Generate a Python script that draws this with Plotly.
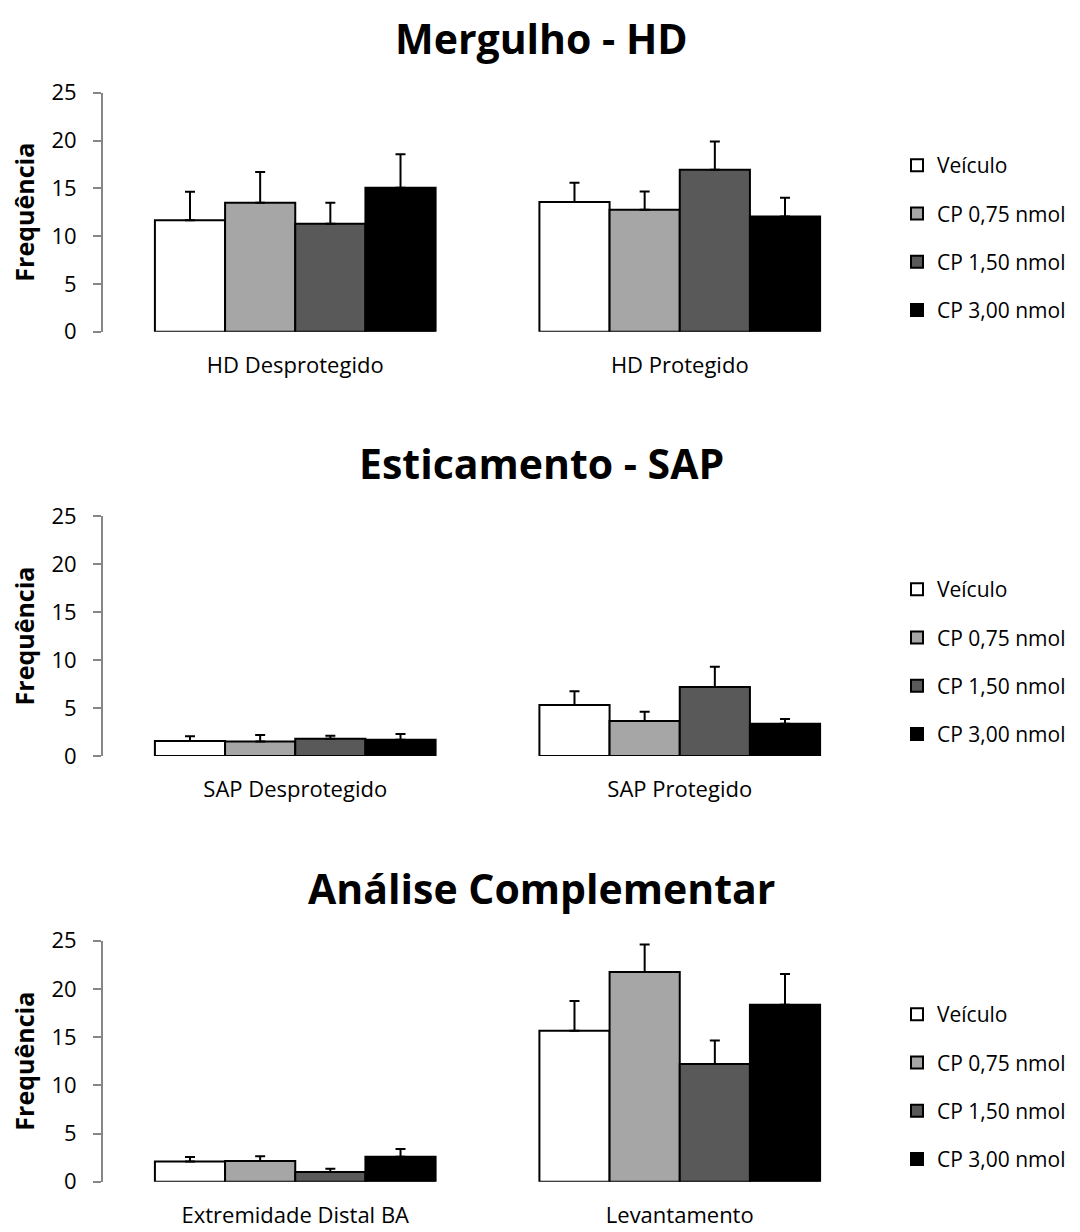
import plotly.graph_objects as go
from plotly.subplots import make_subplots

series = ["Veículo", "CP 0,75 nmol", "CP 1,50 nmol", "CP 3,00 nmol"]
colors = ["#FFFFFF", "#A6A6A6", "#595959", "#000000"]

titles = ["Mergulho - HD", "Esticamento - SAP", "Análise Complementar"]

cats_hd = ["HD Desprotegido", "HD Protegido"]
cats_sap = ["SAP Desprotegido", "SAP Protegido"]
cats_comp = ["Extremidade Distal BA", "Levantamento"]

# means per series (Veículo, 0,75, 1,50, 3,00), each [cat1, cat2]
hd_means = [[11.65, 13.57], [13.5, 12.76], [11.3, 16.95], [15.05, 12.05]]
hd_errs = [[3.0, 2.0], [3.2, 1.9], [2.2, 2.95], [3.5, 1.95]]

sap_means = [[1.55, 5.3], [1.5, 3.65], [1.8, 7.2], [1.7, 3.35]]
sap_errs = [[0.5, 1.45], [0.7, 0.95], [0.3, 2.1], [0.6, 0.5]]

comp_means = [[2.1, 15.65], [2.15, 21.75], [1.0, 12.2], [2.6, 18.35]]
comp_errs = [[0.45, 3.1], [0.5, 2.85], [0.35, 2.45], [0.8, 3.2]]

panels = [
    (cats_hd, hd_means, hd_errs),
    (cats_sap, sap_means, sap_errs),
    (cats_comp, comp_means, comp_errs),
]

W, H = 1080, 1232
L, R = 103, 1080 - 872
plot_w = W - L - R

def py(pix):
    return 1 - pix / H

def px(pix):
    return (pix - L) / plot_w

fig = make_subplots(rows=3, cols=1)

legend_names = ["legend", "legend2", "legend3"]
for p, (cats, means, errs) in enumerate(panels):
    for s in range(4):
        fig.add_trace(
            go.Bar(
                x=cats,
                y=means[s],
                name=series[s],
                marker=dict(color=colors[s], line=dict(color="#000000", width=2)),
                error_y=dict(
                    type="data",
                    array=errs[s],
                    arrayminus=[0] * len(errs[s]),
                    symmetric=False,
                    color="#000000",
                    thickness=2,
                    width=5,
                ),
                legend=legend_names[p],
                legendgroup=f"p{p}s{s}",
                showlegend=True,
            ),
            row=p + 1,
            col=1,
        )

# domains (pixel positions of 0 and 25)
y_domains = [(331.7, 92.7), (756, 516), (1181.7, 940.7)]
title_y = [38, 463, 888]
legend_top = [145, 569, 994]

FONT = "Open Sans"

layout_updates = {}
for p in range(3):
    b, t = y_domains[p]
    ya = "yaxis" if p == 0 else f"yaxis{p+1}"
    xa = "xaxis" if p == 0 else f"xaxis{p+1}"
    layout_updates[ya] = dict(
        domain=[py(b), py(t)],
        range=[0, 25],
        dtick=5,
        showgrid=False,
        zeroline=False,
        showline=True,
        linecolor="#868686",
        linewidth=2,
        ticks="outside",
        ticklen=8,
        tickwidth=2,
        tickcolor="#868686",
        ticklabelstandoff=12,
        tickfont=dict(size=22, color="#000000", family=FONT),
        title=dict(text="<b>Frequência</b>", font=dict(size=25, color="#000000", family=FONT), standoff=10),
        automargin=False,
    )
    layout_updates[xa] = dict(
        showgrid=False,
        zeroline=False,
        showline=False,
        ticks="",
        ticklabelstandoff=18,
        tickfont=dict(size=22, color="#000000", family=FONT),
        automargin=False,
    )
    lname = legend_names[p]
    layout_updates[lname] = dict(
        x=px(897),
        xanchor="left",
        y=py(legend_top[p]),
        yanchor="top",
        font=dict(size=21, color="#000000", family=FONT),
        tracegroupgap=18,
        bgcolor="rgba(0,0,0,0)",
        itemclick=False,
    )

fig.update_layout(**layout_updates)

for p in range(3):
    fig.add_annotation(
        text=f"<b>{titles[p]}</b>",
        xref="paper",
        yref="paper",
        x=px(541),
        y=py(title_y[p]),
        xanchor="center",
        yanchor="middle",
        showarrow=False,
        font=dict(size=41, color="#000000", family=FONT),
    )

fig.update_layout(
    width=W,
    height=H,
    margin=dict(l=L, r=R, t=0, b=0, autoexpand=False),
    barmode="group",
    bargap=0.27,
    bargroupgap=0,
    plot_bgcolor="#FFFFFF",
    paper_bgcolor="#FFFFFF",
    font=dict(family=FONT, color="#000000"),
)

fig.write_html("out.html")
